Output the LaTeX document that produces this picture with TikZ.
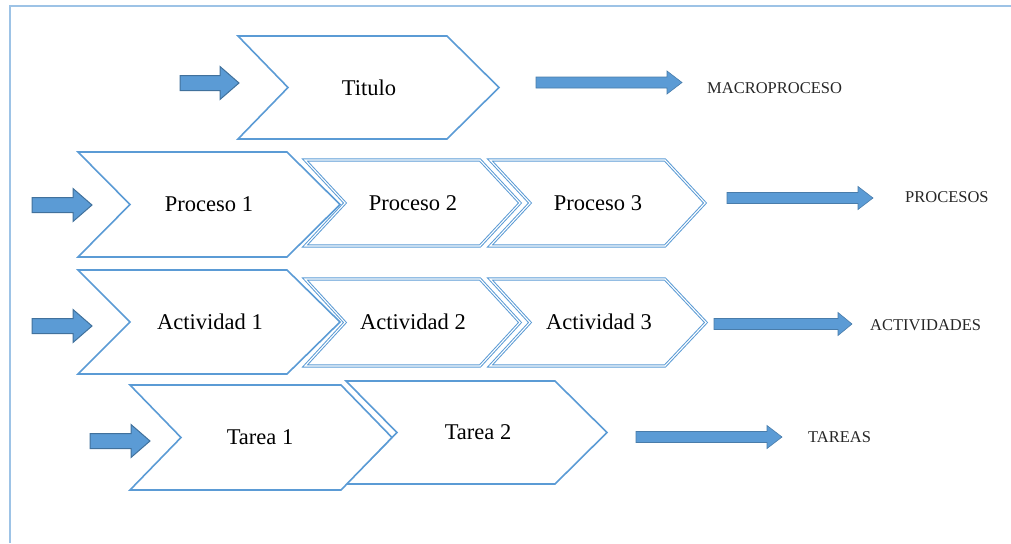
\documentclass[tikz,border=0pt]{standalone}
\usepackage{fontspec}
\setmainfont{Liberation Serif}
\definecolor{frameblue}{HTML}{9DC3E6}
\definecolor{chevblue}{HTML}{5B9BD5}
\definecolor{arrowfill}{HTML}{5B9BD5}
\definecolor{arrowedge}{HTML}{41719C}
\definecolor{labelgray}{HTML}{262626}
\tikzset{
  chevsingle/.style={draw=chevblue, line width=1.6pt, fill=white, line join=miter},
  chevdouble/.style={draw=chevblue, line width=1pt, double=white, double distance=1.1pt, fill=white, line join=miter},
  blockarrow/.style={fill=arrowfill, draw=arrowedge, line width=1pt, line join=miter},
  thinarrow/.style={fill=arrowfill, draw=arrowfill!80!black, line width=0.6pt, line join=miter},
  chevtext/.style={font=\fontsize{22.5}{24}\selectfont, text=black, inner sep=0pt},
  sidelabel/.style={font=\fontsize{16.5}{18}\selectfont, text=labelgray, inner sep=0pt, anchor=west}
}
% chevron: #1 style, #2 left x, #3 right-top x, #4 tip x, #5 notch x, #6 top y, #7 bottom y
\newcommand\mychev[7]{%
  \draw[#1] (#2,#6) -- (#3,#6) -- (#4,{(#6+#7)/2}) -- (#3,#7) -- (#2,#7) -- (#5,{(#6+#7)/2}) -- cycle;}
% block arrow: #1 style, #2 start x, #3 tip x, #4 centre y, #5 body half, #6 head half, #7 head length
\newcommand\myarrow[7]{%
  \draw[#1] (#2,{#4-#5}) -- ({#3-#7},{#4-#5}) -- ({#3-#7},{#4-#6}) -- (#3,#4) -- ({#3-#7},{#4+#6}) -- ({#3-#7},{#4+#5}) -- (#2,{#4+#5}) -- cycle;}
\begin{document}
\begin{tikzpicture}[x=1pt,y=-1pt]
\useasboundingbox (0,0) rectangle (1011,543);
% frame
\draw[frameblue, line width=2pt] (10,543) -- (10,6) -- (1011,6);

% Row 1
\mychev{chevsingle}{238}{447}{499}{288}{36}{139}
\node[chevtext] (titulo) at (369,88) {Titulo};
\myarrow{blockarrow}{180}{239}{83}{7.5}{16.5}{19}
\myarrow{thinarrow}{536}{682}{82.5}{5.5}{11.5}{15}
\node[sidelabel] (macro) at (707,88) {MACROPROCESO};

% Row 2
\mychev{chevdouble}{490}{665}{705}{530}{160}{246}
\mychev{chevdouble}{305}{480}{520}{345}{160}{246}
\mychev{chevsingle}{78}{287}{340}{130}{152}{257}
\node[chevtext] (p1) at (209,204) {Proceso 1};
\node[chevtext] (p2) at (413,203) {Proceso 2};
\node[chevtext] (p3) at (598,203) {Proceso 3};
\myarrow{blockarrow}{32}{92}{205}{7.5}{16.5}{19}
\myarrow{thinarrow}{727}{873}{198}{5.5}{11.5}{15}
\node[sidelabel] (procesos) at (905,197) {PROCESOS};

% Row 3
\mychev{chevdouble}{490}{665}{706}{530}{279}{366}
\mychev{chevdouble}{305}{480}{520}{345}{279}{366}
\mychev{chevsingle}{78}{287}{340}{130}{270}{374}
\node[chevtext] (a1) at (210,322) {Actividad 1};
\node[chevtext] (a2) at (413,322) {Actividad 2};
\node[chevtext] (a3) at (599,322) {Actividad 3};
\myarrow{blockarrow}{32}{92}{326}{7.5}{16.5}{19}
\myarrow{thinarrow}{714}{852}{324}{5.5}{11.5}{14}
\node[sidelabel] (activ) at (870,325) {ACTIVIDADES};

% Row 4
\mychev{chevsingle}{346}{555}{607}{397}{381}{484}
\mychev{chevsingle}{130}{341}{392}{181}{385}{490}
\node[chevtext] (t1) at (260,437) {Tarea 1};
\node[chevtext] (t2) at (478,432) {Tarea 2};
\myarrow{blockarrow}{90}{150}{441}{7.5}{16.5}{19}
\myarrow{thinarrow}{636}{782}{437}{5.5}{11.5}{15}
\node[sidelabel] (tareas) at (808,437) {TAREAS};
\end{tikzpicture}
\end{document}
